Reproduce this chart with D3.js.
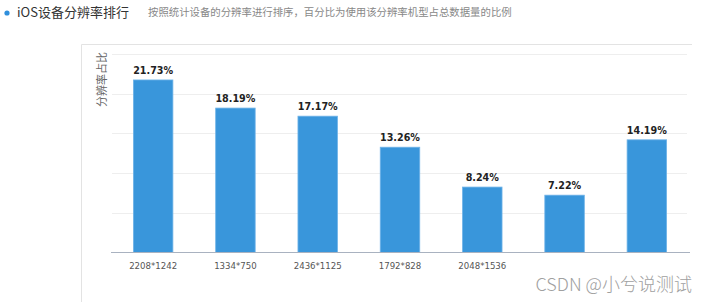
<!DOCTYPE html>
<html>
<head>
<meta charset="utf-8">
<script src="https://cdn.jsdelivr.net/npm/d3@7"></script>
<style>
  html, body { margin: 0; padding: 0; background: #fff; }
  svg { display: block; }
</style>
</head>
<body>
<script>
// data
const categories = ["2208*1242", "1334*750", "2436*1125", "1792*828", "2048*1536", "2688*1242", "1136*640"];
const tickLabels = ["2208*1242", "1334*750", "2436*1125", "1792*828", "2048*1536", "", ""];
const shares = [21.73, 18.19, 17.17, 13.26, 8.24, 7.22, 14.19];
const yTicks = [0, 5, 10, 15, 20, 25];

const width = 707, height = 302;
const cjk = "'Noto Sans CJK SC', 'Noto Sans', sans-serif";

const svg = d3.select("body").append("svg")
  .attr("width", width)
  .attr("height", height);

// header
svg.append("circle").attr("cx", 7).attr("cy", 13).attr("r", 2.6).attr("fill", "#2f8fdc");
svg.append("text")
  .attr("x", 17).attr("y", 17)
  .attr("font-family", cjk).attr("font-size", 13).attr("fill", "#333")
  .text("iOS设备分辨率排行");
svg.append("text")
  .attr("x", 148).attr("y", 16)
  .attr("font-family", cjk).attr("font-size", 10.4).attr("fill", "#888")
  .text("按照统计设备的分辨率进行排序，百分比为使用该分辨率机型占总数据量的比例");

// panel border (left + top)
svg.append("path")
  .attr("d", "M81.5,302V44.5H692")
  .attr("fill", "none").attr("stroke", "#e3e3e3");

// scales
const x = d3.scaleBand()
  .domain(categories)
  .range([112, 688])
  .paddingInner(0.52)
  .paddingOuter(0.26);

const y = d3.scaleLinear()
  .domain([0, 25])
  .range([252.5, 54]);

// gridlines
svg.append("g")
  .selectAll("line")
  .data(yTicks.slice(1))
  .join("line")
  .attr("x1", 112).attr("x2", 687)
  .attr("y1", d => Math.round(y(d)) + 0.5)
  .attr("y2", d => Math.round(y(d)) + 0.5)
  .attr("stroke", "#eeeeee");

// y title
svg.append("text")
  .attr("transform", "translate(106,52) rotate(-90)")
  .attr("text-anchor", "end")
  .attr("font-family", cjk).attr("font-size", 11).attr("fill", "#666")
  .text("分辨率占比");

// bars
svg.append("g")
  .selectAll("rect")
  .data(shares)
  .join("rect")
  .attr("x", (d, i) => x(categories[i]))
  .attr("width", x.bandwidth())
  .attr("y", d => y(d))
  .attr("height", d => y(0) - y(d))
  .attr("fill", "#3996db")
  .attr("stroke", "#6fb3e8")
  .attr("stroke-width", 0.8);

// value labels
svg.append("g")
  .selectAll("text")
  .data(shares)
  .join("text")
  .attr("x", (d, i) => x(categories[i]) + x.bandwidth() / 2)
  .attr("y", d => y(d) - 6)
  .attr("text-anchor", "middle")
  .attr("font-family", "'DejaVu Sans', sans-serif")
  .attr("font-weight", "bold")
  .attr("font-size", 9.6)
  .attr("fill", "#222")
  .text(d => d.toFixed(2) + "%");

// x axis
const xAxis = svg.append("g")
  .attr("transform", "translate(0,252.5)")
  .call(d3.axisBottom(x).tickSize(0).tickPadding(10)
    .tickFormat((d, i) => tickLabels[i]));
xAxis.select(".domain")
  .attr("d", "M111,0H690")
  .attr("stroke", "#a9b2c0");
xAxis.selectAll("text")
  .attr("font-family", "'DejaVu Sans', sans-serif")
  .attr("font-size", 8.6)
  .attr("fill", "#555");

// watermark
svg.append("text")
  .attr("x", 692).attr("y", 291)
  .attr("text-anchor", "end")
  .attr("font-family", cjk).attr("font-size", 18).attr("font-weight", 300)
  .attr("fill", "#a0a0a0")
  .attr("stroke", "#fff").attr("stroke-width", 2).attr("paint-order", "stroke")
  .text("CSDN @小兮说测试");
</script>
</body>
</html>
